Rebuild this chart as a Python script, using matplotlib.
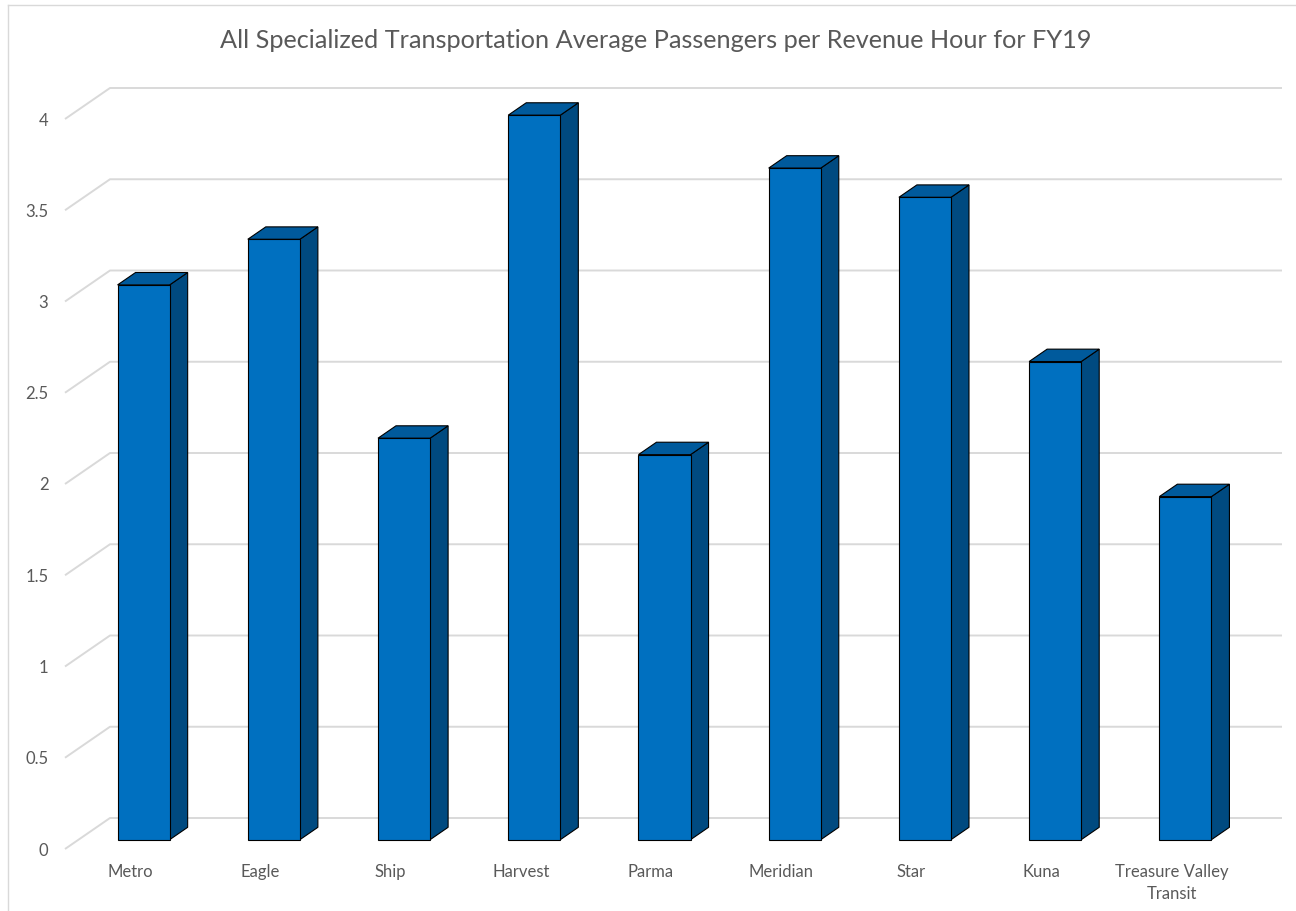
import matplotlib
matplotlib.use("Agg")
import matplotlib.pyplot as plt
from matplotlib.patches import Polygon
from matplotlib.lines import Line2D

# ---------------- data ----------------
categories = ["Metro", "Eagle", "Ship", "Harvest", "Parma", "Meridian",
              "Star", "Kuna", "Treasure Valley\nTransit"]
values = [3.04, 3.29, 2.20, 3.97, 2.11, 3.68, 3.52, 2.62, 1.88]
yticks = [0, 0.5, 1, 1.5, 2, 2.5, 3, 3.5, 4]
ytick_labels = ["0", "0.5", "1", "1.5", "2", "2.5", "3", "3.5", "4"]
title = "All Specialized Transportation Average Passengers per Revenue Hour for FY19"

# ---------------- style ----------------
plt.rcParams['font.family'] = ['Lato', 'DejaVu Sans']
W, H = 1296, 911
TEXT = '#595959'
GRID = '#d9d9d9'
FRONT = '#0070C0'
SIDE = '#004A80'
TOP = '#005A9C'

fig = plt.figure(figsize=(W / 100, H / 100), dpi=100)
fig.patch.set_facecolor('white')

# front plane of the plot: x from 65px to 1237px, value 0 at 849px, 4 at 119px
ax = fig.add_axes([65 / W, (H - 849) / H, (1237 - 65) / W, (849 - 119) / H])
n = len(categories)
ax.set_xlim(-0.5, n - 0.5)
ax.set_ylim(0, 4)
for s in ax.spines.values():
    s.set_visible(False)
ax.set_facecolor('none')

# depth vector (oblique projection) in data units
DX = 45 / (1172 / n)
DY = 31 / (730 / 4)
f1, f2 = 0.30, 0.70   # bar depth range
hw = 0.2              # half bar width

# gridlines: left wall diagonal + back wall horizontal
x_left, x_right = -0.5, n - 0.5
for t in yticks:
    ax.plot([x_left, x_left + DX, x_right + DX], [t, t + DY, t + DY],
            color=GRID, lw=1.4, clip_on=False, zorder=1,
            solid_capstyle='butt')

# bars
for i, v in enumerate(values):
    xl1 = i - hw + f1 * DX
    xr1 = i + hw + f1 * DX
    xl2 = i - hw + f2 * DX
    xr2 = i + hw + f2 * DX
    b1, b2 = f1 * DY, f2 * DY
    t1, t2 = v + b1, v + b2
    side = Polygon([(xr1, b1), (xr2, b2), (xr2, t2), (xr1, t1)], closed=True,
                   facecolor=SIDE, edgecolor='black', lw=0.8, joinstyle='miter',
                   clip_on=False, zorder=3)
    top = Polygon([(xl1, t1), (xr1, t1), (xr2, t2), (xl2, t2)], closed=True,
                  facecolor=TOP, edgecolor='black', lw=0.8, joinstyle='miter',
                  clip_on=False, zorder=3)
    front = Polygon([(xl1, b1), (xr1, b1), (xr1, t1), (xl1, t1)], closed=True,
                    facecolor=FRONT, edgecolor='black', lw=0.8, joinstyle='miter',
                    clip_on=False, zorder=4)
    ax.add_patch(side)
    ax.add_patch(top)
    ax.add_patch(front)

ax.set_yticks(yticks, ytick_labels)
ax.set_xticks(range(n), categories)
ax.tick_params(axis='y', length=0, pad=12, labelsize=12, labelcolor=TEXT)
ax.tick_params(axis='x', length=0, pad=11, labelsize=12, labelcolor=TEXT)
for lab in ax.get_xticklabels():
    lab.set_multialignment('center')
    lab.set_linespacing(1.45)

fig.text(656 / W, 1 - 40 / H, title, ha='center', va='center',
         fontsize=18.2, color=TEXT)

# chart border (top and left visible)
fig.add_artist(Line2D([8 / W, 8 / W], [0, 1 - 5 / H], transform=fig.transFigure,
                      color=GRID, lw=1.0))
fig.add_artist(Line2D([8 / W, 1], [1 - 5 / H, 1 - 5 / H], transform=fig.transFigure,
                      color=GRID, lw=1.0))

fig.savefig('out.png', dpi=100, facecolor='white')
